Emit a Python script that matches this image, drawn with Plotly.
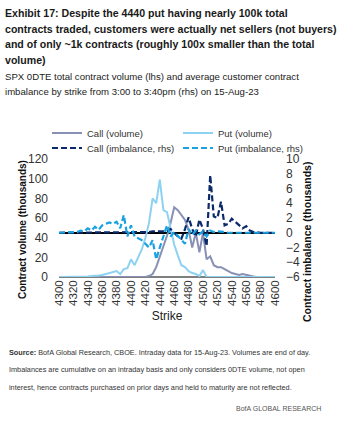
import plotly.graph_objects as go

strikes = list(range(4300, 4605, 5))

call_volume = [0, 0, 0, 0, 0, 0, 0, 0, 0, 0,
               0, 0, 0, 0, 0, 0, 0, 0, 0, 0,
               0, 0, 0, 0, 0, 1, 3, 10, 20, 30,
               42, 55, 71, 68, 63, 58, 48, 30, 45, 25,
               45, 18, 21, 12, 10, 10, 8, 6, 4, 3,
               2, 3, 2, 1, 0.5, 0, 0, 0, 0, 0, 0]

put_volume = [0, 0, 0, 0, 0, 0, 0, 0.3, 0.5, 1,
              1, 1.5, 2, 3, 4, 5, 6, 3, 8, 9,
              18, 12, 20, 28, 40, 55, 80, 75, 99, 68,
              66, 48, 33, 22, 12, 10, 6, 4, 3, 1,
              7, 0, 0, 0, 0, 0, 0, 0, 0, 0,
              0, 0, 0, 0, 0, 0, 0, 0, 0, 0, 0]

call_imbalance = [0, 0, 0, 0, 0, 0, 0, 0, 0, 0,
                  0, 0, 0, 0, 0, 0, 0, 0, 0, 0,
                  0, 0, 0, 0, 0, 0.1, 0.2, 0.2, 0.3, 0.3,
                  0.2, 0.5, 0, -0.5, -0.8, 0.5, 2.1, 0.5, -0.5, 1.8,
                  0.5, -1.8, 7.8, 2.2, 2.0, 4.2, 1.0, 1.2, 1.9, 1.5,
                  1.0, 0.6, 0.9, 0.3, 0.1, 0, 0, 0, 0, 0, 0]

put_imbalance = [0, 0, 0, 0, 0, 0.1, 0.3, 0.2, 0.6, 0.3,
                 0.8, 0.4, 1.0, 1.2, 1.4, 1.2, 1.5, 0.6, 2.4, -0.5,
                 1.0, -0.5, -0.8, -1.0, -1.5, -2.0, -1.0, -3.6, -2.0, -0.5,
                 1.0, -0.5, 0.1, -0.4, -0.9, -1.5, 0.5, -0.3, 0.3, -0.2,
                 0.2, -0.5, 0.3, 0.1, 0.2, 0.2, 0.1, 0, 0, 0,
                 0, 0, 0, 0, 0, 0, 0, 0, 0, 0, 0]

tick_strikes = list(range(4300, 4601, 20))
left_ticks = [0, 20, 40, 60, 80, 100, 120]
right_ticks = [-6, -4, -2, 0, 2, 4, 6, 8, 10]

title_lines = [
    "Exhibit 17: Despite the 4440 put having nearly 100k total",
    "contracts traded, customers were actually net sellers (not buyers)",
    "and of only ~1k contracts (roughly 100x smaller than the total",
    "volume)",
]
subtitle_lines = [
    "SPX 0DTE total contract volume (lhs) and average customer contract",
    "imbalance by strike from 3:00 to 3:40pm (rhs) on 15-Aug-23",
]
source_lines = [
    "<b>Source:</b> BofA Global Research, CBOE. Intraday data for 15-Aug-23. Volumes are end of day.",
    "Imbalances are cumulative on an intraday basis and only considers 0DTE volume, not open",
    "interest, hence contracts purchased on prior days and held to maturity are not reflected.",
]
left_title = "Contract volume (thousands)"
right_title = "Contract imbalance (thousands)"

FONT = "Liberation Sans, Arial, sans-serif"

C_CALL_VOL = "#8890B5"
C_PUT_VOL = "#8ED2F2"
C_CALL_IMB = "#0B2A6A"
C_PUT_IMB = "#19A2E2"
DASH = "6px,3px"

fig = go.Figure()
fig.add_trace(go.Scatter(x=strikes, y=call_volume, name="Call (volume)", mode="lines",
                         line=dict(color=C_CALL_VOL, width=2), yaxis="y", legend="legend"))
fig.add_trace(go.Scatter(x=strikes, y=put_volume, name="Put (volume)", mode="lines",
                         line=dict(color=C_PUT_VOL, width=2), yaxis="y", legend="legend"))
fig.add_trace(go.Scatter(x=strikes, y=call_imbalance, name="Call (imbalance, rhs)", mode="lines",
                         line=dict(color=C_CALL_IMB, width=2.2, dash=DASH), yaxis="y2", legend="legend2"))
fig.add_trace(go.Scatter(x=strikes, y=put_imbalance, name="Put (imbalance, rhs)", mode="lines",
                         line=dict(color=C_PUT_IMB, width=2.2, dash=DASH), yaxis="y2", legend="legend2"))

L, R, T, B = 59, 86, 159, 147
W, H = 361, 424
pw, ph = W - L - R, H - T - B


def px(x):
    return (x - L) / pw


def py(y):
    return (H - B - y) / ph


annotations = []
for i, t in enumerate(title_lines):
    annotations.append(dict(text="<b>" + t + "</b>", x=px(3), y=py(13 + 15.7 * i),
                            xref="paper", yref="paper", xanchor="left", yanchor="middle",
                            showarrow=False, font=dict(family=FONT, size=10.6, color="#1a1a1a")))
for i, t in enumerate(subtitle_lines):
    annotations.append(dict(text=t, x=px(3), y=py(76 + 15.5 * i),
                            xref="paper", yref="paper", xanchor="left", yanchor="middle",
                            showarrow=False, font=dict(family=FONT, size=9.6, color="#222222")))
for i, t in enumerate(source_lines):
    annotations.append(dict(text=t, x=px(7), y=py(352 + 17.7 * i),
                            xref="paper", yref="paper", xanchor="left", yanchor="middle",
                            showarrow=False, font=dict(family=FONT, size=7.3, color="#333333")))
annotations.append(dict(text="BofA GLOBAL RESEARCH", x=px(323), y=py(408),
                        xref="paper", yref="paper", xanchor="right", yanchor="middle",
                        showarrow=False, font=dict(family=FONT, size=7, color="#555555")))
annotations.append(dict(text="<b>" + left_title + "</b>", x=px(22), y=py(230), textangle=-90,
                        xref="paper", yref="paper", xanchor="center", yanchor="middle",
                        showarrow=False, font=dict(family=FONT, size=10, color="#111111")))
annotations.append(dict(text="<b>" + right_title + "</b>", x=px(307), y=py(242), textangle=-90,
                        xref="paper", yref="paper", xanchor="center", yanchor="middle",
                        showarrow=False, font=dict(family=FONT, size=10.5, color="#111111")))

legend_common = dict(orientation="h", xanchor="left", yanchor="middle",
                     entrywidth=86, entrywidthmode="pixels",
                     font=dict(family=FONT, size=9.5, color="#333333"),
                     bgcolor="rgba(0,0,0,0)", itemwidth=30)

fig.update_layout(
    width=W, height=H,
    margin=dict(l=L, r=R, t=T, b=B, autoexpand=False),
    paper_bgcolor="white", plot_bgcolor="white",
    font=dict(family=FONT, size=12, color="#333333"),
    showlegend=True,
    legend=dict(x=px(47), y=py(133), **legend_common),
    legend2=dict(x=px(47), y=py(148), **legend_common),
    xaxis=dict(range=[4300, 4600], tickmode="array", tickvals=tick_strikes,
               ticktext=[str(s) for s in tick_strikes], tickangle=-90,
               showgrid=False, zeroline=False, showline=False, ticks="",
               tickfont=dict(family=FONT, size=11.5, color="#333333"),
               title=dict(text="Strike", font=dict(family=FONT, size=12, color="#222222"), standoff=6)),
    yaxis=dict(range=[0, 120], tickvals=left_ticks,
               showgrid=False, zeroline=True, zerolinecolor="#7f7f7f", zerolinewidth=1.5,
               showline=False, ticks="", ticklabelstandoff=10,
               tickfont=dict(family=FONT, size=12, color="#333333")),
    yaxis2=dict(range=[-6, 10], tickvals=right_ticks, overlaying="y", side="right",
                showgrid=False, zeroline=True, zerolinecolor="#000000", zerolinewidth=1.5,
                showline=False, ticks="", ticklabelstandoff=10,
                tickfont=dict(family=FONT, size=12, color="#333333")),
    annotations=annotations,
)

fig.write_html("out.html", config={"displayModeBar": False},
               post_script="document.body.style.margin='0px';")
